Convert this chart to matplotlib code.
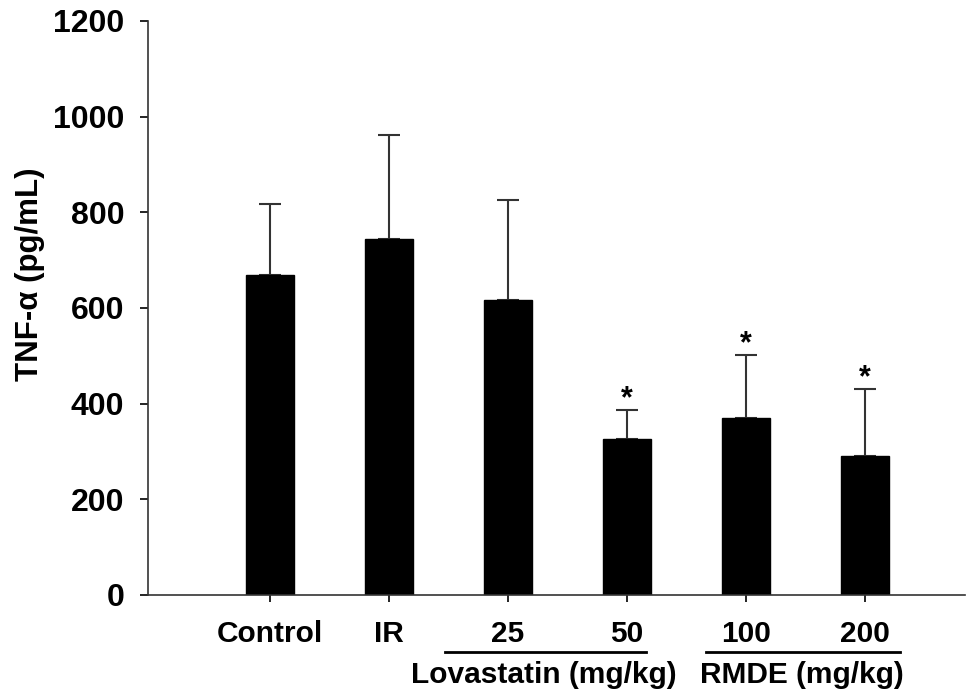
import matplotlib
matplotlib.use("Agg")
import matplotlib.pyplot as plt

plt.rcParams['font.family'] = ['Liberation Sans', 'DejaVu Sans']
plt.rcParams['font.weight'] = 'bold'

categories = ["Control", "IR", "25", "50", "100", "200"]
means = [670, 745, 616, 326, 370, 290]
errors = [148, 217, 209, 60, 131, 140]
significant = [False, False, False, True, True, True]
group_labels = ["Lovastatin (mg/kg)", "RMDE (mg/kg)"]

yticks = [0, 200, 400, 600, 800, 1000, 1200]

# layout for group annotations (x in category units)
group_line_spans = [(1.47, 3.16), (3.66, 5.29)]
group_label_centers = [2.30, 4.47]

fig = plt.figure(figsize=(9.76, 6.93), dpi=100)
ax = fig.add_axes([148/976, 1-595/693, (965-148)/976, (595-21)/693])

x = list(range(len(categories)))
ax.bar(x, means, width=0.40, color='black', edgecolor='black', zorder=2)
ax.errorbar(x, means, yerr=[[0]*len(errors), errors], fmt='none', ecolor='#333333',
            elinewidth=1.5, capsize=8, capthick=1.5, zorder=1)
for xi, m, e, s in zip(x, means, errors, significant):
    if s:
        ax.text(xi, m + e - 8, "*", ha='center', va='bottom', fontsize=22, fontweight='bold')

ax.set_xlim(-1.025, 5.84)
ax.set_ylim(0, 1200)
ax.set_yticks(yticks)
ax.set_yticklabels([str(t) for t in yticks], fontsize=23, fontweight='bold')
ax.set_xticks(x)
ax.set_xticklabels(categories, fontsize=21.5, fontweight='bold')
ax.tick_params(axis='y', direction='out', length=6, width=1.2, pad=11)
ax.tick_params(axis='x', direction='out', length=5, width=1.2, pad=13)
for side in ['top', 'right']:
    ax.spines[side].set_visible(False)
for side in ['left', 'bottom']:
    ax.spines[side].set_linewidth(1.2)
    ax.spines[side].set_color('#333333')

ax.set_ylabel("TNF-α (pg/mL)", fontsize=22.5, fontweight='bold')
ax.yaxis.set_label_coords(-0.126, 0.559)

trans = ax.get_xaxis_transform()
for label, (a, b), c in zip(group_labels, group_line_spans, group_label_centers):
    ax.plot([a, b], [-0.100, -0.100], transform=trans, color='black',
            lw=2, clip_on=False)
    ax.text(c, -0.140, label, transform=trans, ha='center', va='center',
            fontsize=21.5, fontweight='bold')

fig.savefig("out.png", dpi=100)
